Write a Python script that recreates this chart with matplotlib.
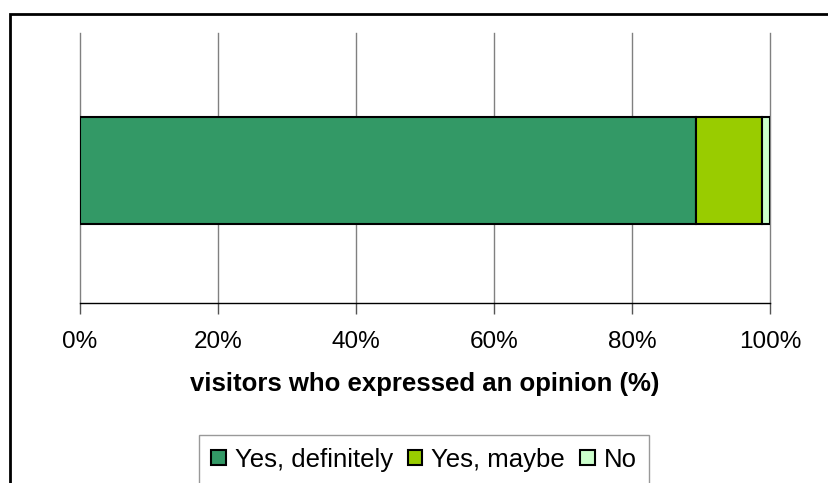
import matplotlib
matplotlib.use("Agg")
import matplotlib.pyplot as plt
from matplotlib.patches import Rectangle

categories = ["Yes, definitely", "Yes, maybe", "No"]
values = [89.3, 9.5, 1.2]
colors = ["#339966", "#99CC00", "#CCFFCC"]
ticks = [0, 20, 40, 60, 80, 100]
tick_labels = ["0%", "20%", "40%", "60%", "80%", "100%"]

W, H = 829, 483
fig = plt.figure(figsize=(W/100, H/100), dpi=100)
plt.rcParams['font.family'] = ['Liberation Sans', 'DejaVu Sans']

# outer frame
fig.patches.append(Rectangle((10/W, -0.1), 1.0, (H-14)/H + 0.1, transform=fig.transFigure,
                             fill=False, edgecolor='black', linewidth=2, zorder=0))

ax = fig.add_axes([80/W, 1-303/H, 690/W, (303-33)/H])
left = 0
for c, v, col in zip(categories, values, colors):
    ax.barh(0, v, left=left, height=0.398, color=col, edgecolor='black', linewidth=1.5, label=c, zorder=3)
    left += v

ax.set_xlim(0, 100)
ax.set_ylim(-0.49, 0.51)
ax.set_yticks([])
ax.set_xticks(ticks)
ax.set_xticklabels(tick_labels, fontsize=17.5)
ax.tick_params(axis='x', length=8, width=1, color='#555555', pad=12)
ax.grid(axis='x', color='#808080', linewidth=1, zorder=0, clip_on=False)
for s in ['left', 'right', 'top']:
    ax.spines[s].set_visible(False)
ax.spines['bottom'].set_color('black')
ax.spines['bottom'].set_linewidth(1)
ax.set_xlabel("visitors who expressed an opinion (%)", fontsize=18.5, fontweight='bold', labelpad=14)

leg = ax.legend(loc='upper center', bbox_to_anchor=(424/W, 1-435/H), bbox_transform=fig.transFigure,
                ncol=3, fontsize=18.5, frameon=True, fancybox=False, edgecolor='#808080',
                handlelength=0.55, handleheight=0.55, handletextpad=0.35, columnspacing=0.6,
                borderpad=0.5, borderaxespad=0)
leg.get_frame().set_linewidth(1)

fig.savefig("out.png", dpi=100)
